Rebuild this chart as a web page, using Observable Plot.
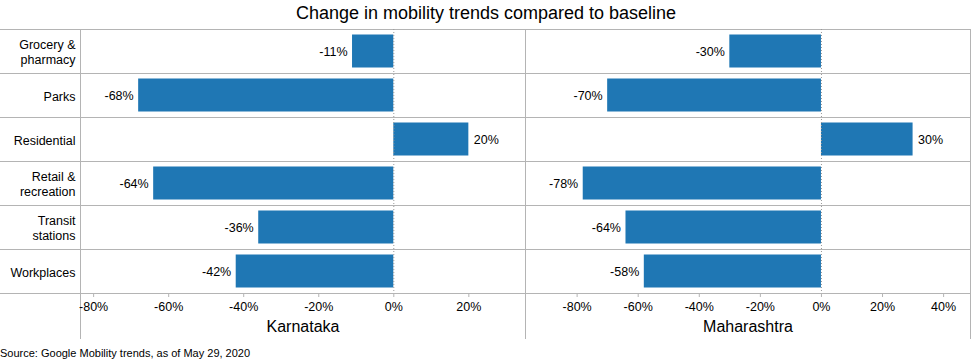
<!DOCTYPE html>
<html>
<head>
<meta charset="utf-8">
<script src="https://cdn.jsdelivr.net/npm/d3@7"></script>
<script src="https://cdn.jsdelivr.net/npm/@observablehq/plot@0.6"></script>
<style>
  html, body { margin: 0; padding: 0; background: #fff; }
  body { font-family: "Liberation Sans", Arial, sans-serif; color: #000; width: 972px; }
  #title { height: 29px; line-height: 26px; text-align: center; font-size: 18px; }
  #row { display: flex; flex-direction: row; }
  #row svg { display: block; }
  #source { font-size: 11px; line-height: 12px; height: 12px; }
</style>
</head>
<body>
<div id="title">Change in mobility trends compared to baseline</div>
<div id="row"></div>
<div id="source">Source: Google Mobility trends, as of May 29, 2020</div>
<script>
// ---- data ----
const categories = ["Grocery & pharmacy", "Parks", "Residential", "Retail & recreation", "Transit stations", "Workplaces"];
const categoryLabels = ["Grocery &\npharmacy", "Parks", "Residential", "Retail &\nrecreation", "Transit\nstations", "Workplaces"];
const states = ["Karnataka", "Maharashtra"];
const karnataka = [-11, -68, 20, -64, -36, -42];
const maharashtra = [-30, -70, 30, -78, -64, -58];
const ticksKarnataka = [-80, -60, -40, -20, 0, 20];
const ticksMaharashtra = [-80, -60, -40, -20, 0, 20, 40];
const domainKarnataka = [-83.5, 35.1];
const domainMaharashtra = [-96.9, 48.8];

// ---- styles ----
const barColor = "#1f77b4";
const gridColor = "#b4b4b4";
const fontFamily = "'Liberation Sans', Arial, sans-serif";
const H = 318, marginBottom = 54, step = 44;

function panel({state, values, ticks, domain, width, marginLeft, marginRight, showY, leftEdgeOnly}) {
  const data = categories.map((c, i) => ({cat: c, value: values[i]}));
  const edges = leftEdgeOnly ? [domain[0]] : domain;
  const marks = [
    Plot.ruleY(categories, {y: d => d, dy: -step / 2, stroke: gridColor, insetLeft: -marginLeft}),
    Plot.ruleY(categories.slice(-1), {y: d => d, dy: step / 2, stroke: gridColor, insetLeft: -marginLeft}),
    Plot.ruleX(edges, {x: d => d, stroke: gridColor, insetBottom: -46}),
    Plot.barX(data, {x1: 0, x2: "value", y: "cat", fill: barColor, insetTop: 5.5, insetBottom: 5.5}),
    Plot.ruleX([0], {x: d => d, stroke: "#999", strokeDasharray: "1,2"}),
    Plot.text(data.filter(d => d.value < 0), {x: "value", y: "cat", text: d => d.value + "%", textAnchor: "end", dx: -5, fontSize: 12.5}),
    Plot.text(data.filter(d => d.value >= 0), {x: "value", y: "cat", text: d => d.value + "%", textAnchor: "start", dx: 5, fontSize: 12.5}),
    Plot.axisX({ticks, tickFormat: d => d + "%", tickSize: 4, tickPadding: 5, stroke: gridColor, fill: "#000", label: null, fontSize: 12.5}),
    Plot.text([state], {text: d => d, frameAnchor: "bottom", dy: 33, lineAnchor: "middle", fontSize: 16})
  ];
  if (showY) {
    marks.push(Plot.axisY({tickSize: 0, tickPadding: 5, label: null, fontSize: 12.5, lineHeight: 1.25,
      tickFormat: d => categoryLabels[categories.indexOf(d)]}));
  }
  return Plot.plot({
    width, height: H,
    marginLeft, marginRight, marginTop: 0, marginBottom,
    style: {fontFamily, fontSize: "12.5px", color: "#000", background: "#fff", overflow: "visible"},
    x: {domain, axis: null},
    y: {domain: categories, padding: 0, axis: null},
    marks
  });
}

const row = document.getElementById("row");
row.appendChild(panel({state: states[0], values: karnataka, ticks: ticksKarnataka, domain: domainKarnataka,
  width: 525, marginLeft: 80, marginRight: 0, showY: true, leftEdgeOnly: true}));
row.appendChild(panel({state: states[1], values: maharashtra, ticks: ticksMaharashtra, domain: domainMaharashtra,
  width: 447, marginLeft: 0, marginRight: 2, showY: false, leftEdgeOnly: false}));
</script>
</body>
</html>
